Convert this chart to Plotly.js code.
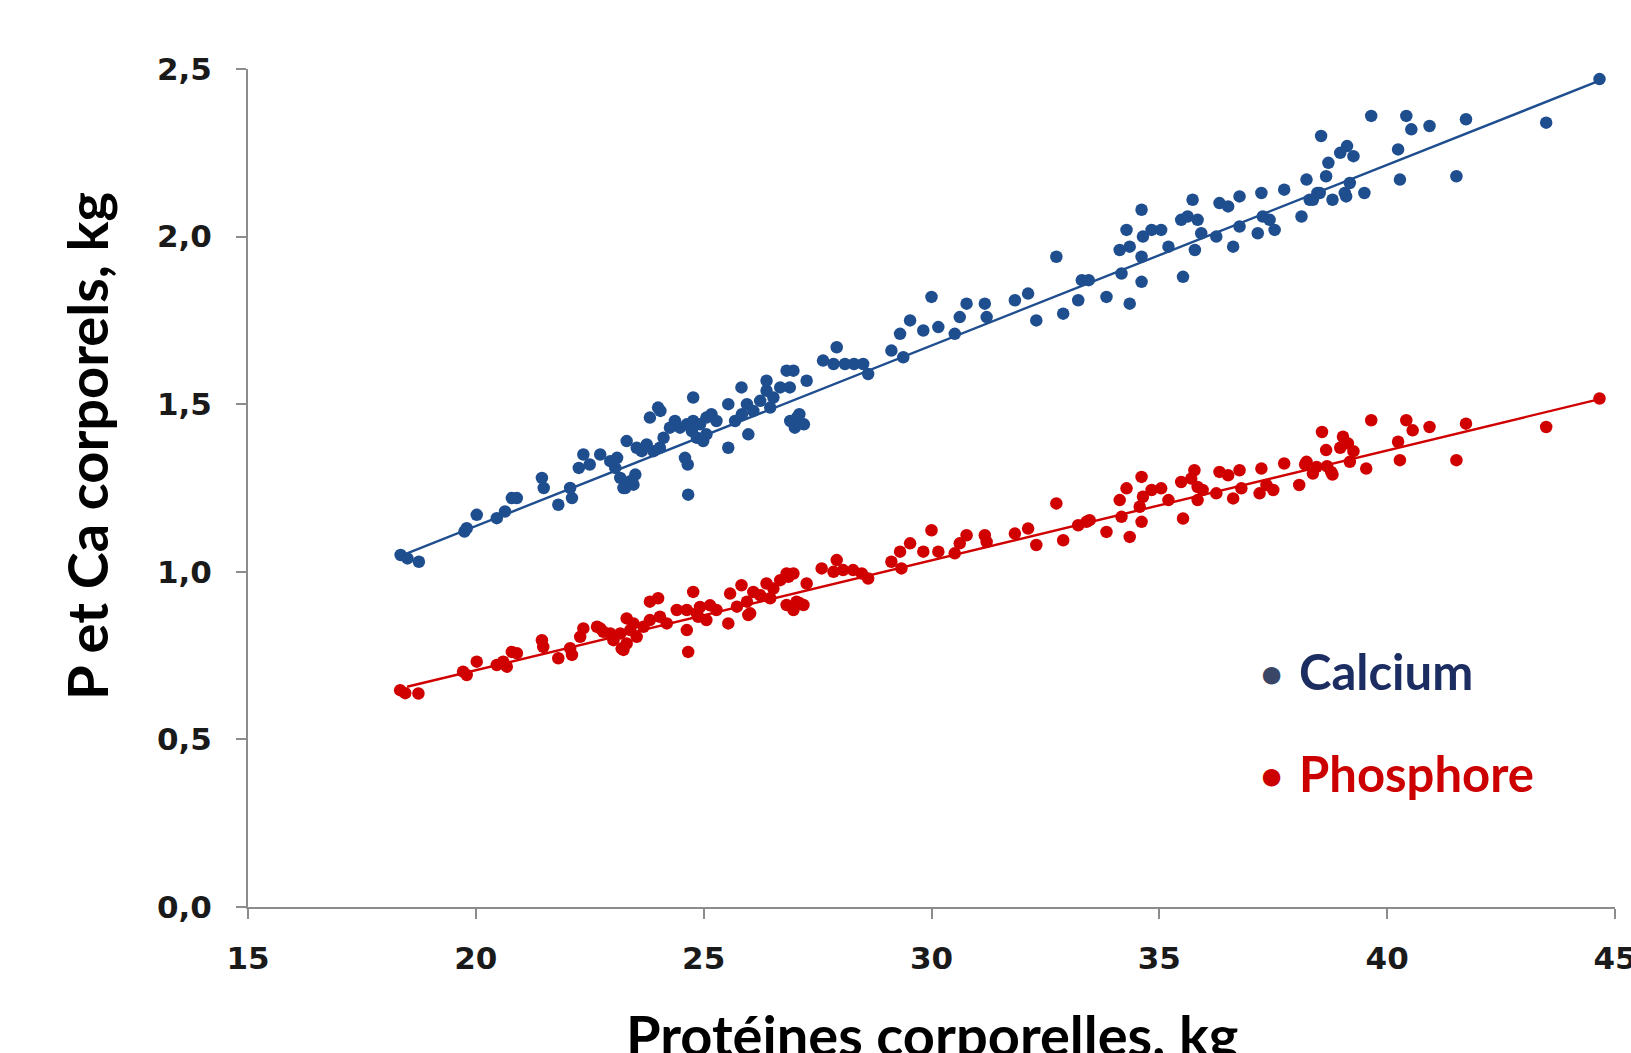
<!DOCTYPE html>
<html>
<head>
<meta charset="utf-8">
<script src="https://cdn.plot.ly/plotly-3.0.1.min.js"></script>
<style>
  html, body { margin: 0; padding: 0; background: #ffffff; }
  #chart { width: 1631px; height: 1053px; }
</style>
</head>
<body>
<div id="chart"></div>
<script>
// Calcium (Ca) body content, kg, vs body protein, kg
const caX = [18.35,18.5,18.75,19.75,19.8,20.02,20.46,20.64,20.79,20.9,21.45,21.49,21.81,22.07,22.11,22.26,22.36,22.5,22.73,22.95,
  23.06,23.1,23.17,23.24,23.28,23.39,23.46,23.5,23.31,23.53,23.64,23.75,23.82,23.9,24.0,24.04,24.05,24.12,24.26,24.37,
  24.48,24.59,24.63,24.65,24.66,24.74,24.77,24.77,24.85,24.92,24.99,25.06,25.06,25.17,25.28,25.54,25.54,25.69,25.83,25.84,
  25.95,25.98,26.09,26.24,26.38,26.38,26.46,26.53,26.68,26.82,26.89,26.97,26.9,27.0,27.1,27.2,27.05,27.26,27.62,27.92,
  27.85,28.1,28.3,28.5,28.61,29.12,29.38,29.31,29.53,29.82,30.0,30.15,30.51,30.62,30.77,31.17,31.21,31.83,32.12,32.3,
  32.74,32.89,33.22,33.3,33.45,33.84,34.35,34.17,34.61,34.13,34.28,34.35,34.61,34.64,34.61,34.83,35.04,35.2,35.48,35.62,
  35.84,35.73,35.92,35.78,35.52,36.25,36.32,36.51,36.62,36.76,36.76,37.16,37.27,37.42,37.24,37.53,37.74,38.12,38.23,38.3,
  38.37,38.47,38.52,38.55,38.66,38.71,38.8,38.97,39.07,39.1,39.12,39.18,39.26,39.5,39.65,40.24,40.28,40.42,40.53,40.93,
  41.52,41.73,43.49,44.66];
const caY = [1.05,1.04,1.03,1.12,1.13,1.17,1.16,1.18,1.22,1.22,1.28,1.25,1.20,1.25,1.22,1.31,1.35,1.32,1.35,1.33,
  1.31,1.34,1.28,1.25,1.25,1.27,1.26,1.29,1.39,1.37,1.36,1.38,1.46,1.36,1.49,1.37,1.48,1.40,1.43,1.45,
  1.43,1.34,1.44,1.32,1.23,1.42,1.52,1.45,1.40,1.44,1.39,1.46,1.41,1.47,1.45,1.37,1.50,1.45,1.55,1.47,
  1.50,1.41,1.48,1.51,1.57,1.54,1.49,1.52,1.55,1.60,1.55,1.60,1.45,1.43,1.47,1.44,1.46,1.57,1.63,1.67,
  1.62,1.62,1.62,1.62,1.59,1.66,1.64,1.71,1.75,1.72,1.82,1.73,1.71,1.76,1.80,1.80,1.76,1.81,1.83,1.75,
  1.94,1.77,1.81,1.87,1.87,1.82,1.80,1.89,1.865,1.96,2.02,1.97,2.08,2.00,1.94,2.02,2.02,1.97,2.05,2.06,
  2.05,2.11,2.01,1.96,1.88,2.00,2.10,2.09,1.97,2.12,2.03,2.01,2.06,2.05,2.13,2.02,2.14,2.06,2.17,2.11,
  2.11,2.13,2.13,2.30,2.18,2.22,2.11,2.25,2.13,2.12,2.27,2.16,2.24,2.13,2.36,2.26,2.17,2.36,2.32,2.33,
  2.18,2.35,2.34,2.47];

// Phosphorus (P) body content, kg, vs body protein, kg
const pX = [18.34,18.45,18.74,19.72,19.8,20.02,20.46,20.6,20.68,20.79,20.9,21.45,21.48,21.81,22.07,22.11,22.29,22.36,22.66,22.73,
  22.8,22.95,23.02,23.17,23.2,23.24,23.31,23.31,23.39,23.46,23.53,23.68,23.82,23.82,24.0,24.04,24.19,24.41,24.63,24.63,
  24.66,24.77,24.85,24.88,24.92,25.06,25.14,25.28,25.54,25.58,25.73,25.83,25.95,25.98,26.02,26.09,26.24,26.38,26.46,26.53,
  26.68,26.82,26.86,26.97,26.82,26.97,27.04,27.11,27.19,27.26,27.59,27.92,27.85,28.06,28.28,28.47,28.61,29.12,29.34,29.31,
  29.53,29.82,30.0,30.15,30.51,30.62,30.77,31.17,31.21,31.83,32.12,32.3,32.74,32.89,33.22,33.4,33.47,33.84,34.35,34.17,
  34.61,34.28,34.13,34.61,34.57,34.64,34.83,35.04,35.2,35.48,35.7,35.84,35.77,35.95,35.84,35.52,36.25,36.32,36.51,36.62,
  36.76,36.8,37.2,37.24,37.35,37.5,37.74,38.07,38.2,38.23,38.37,38.45,38.57,38.66,38.68,38.77,38.8,38.97,39.03,39.14,
  39.18,39.26,39.54,39.65,40.24,40.28,40.42,40.56,40.93,41.52,41.73,43.49,44.66];
const pY = [0.647,0.638,0.637,0.702,0.692,0.732,0.722,0.732,0.717,0.761,0.757,0.796,0.776,0.742,0.772,0.752,0.806,0.831,0.836,0.831,
  0.821,0.816,0.796,0.816,0.771,0.767,0.786,0.861,0.826,0.846,0.806,0.836,0.911,0.856,0.921,0.866,0.846,0.886,0.886,0.826,
  0.761,0.940,0.876,0.866,0.895,0.856,0.900,0.886,0.846,0.935,0.896,0.960,0.911,0.871,0.876,0.940,0.930,0.965,0.921,0.950,
  0.975,0.995,0.985,0.995,0.901,0.886,0.911,0.906,0.901,0.965,1.01,1.035,1.00,1.005,1.005,0.995,0.98,1.03,1.01,1.06,
  1.085,1.06,1.124,1.06,1.055,1.085,1.109,1.109,1.089,1.114,1.129,1.08,1.204,1.094,1.139,1.149,1.154,1.119,1.104,1.164,
  1.149,1.249,1.214,1.283,1.194,1.224,1.244,1.249,1.214,1.268,1.278,1.253,1.303,1.244,1.214,1.159,1.234,1.298,1.288,1.219,
  1.303,1.249,1.234,1.308,1.259,1.244,1.323,1.259,1.32,1.328,1.293,1.313,1.417,1.363,1.315,1.298,1.29,1.37,1.403,1.383,
  1.328,1.36,1.308,1.452,1.388,1.333,1.452,1.422,1.432,1.333,1.442,1.432,1.517];

// Trend lines (end points)
const lineX = [18.49, 44.66];
const caLineY = [1.055, 2.465];
const pLineY = [0.657, 1.515];

// Tick labels
const xTicks = [15, 20, 25, 30, 35, 40, 45];
const yTicks = [0, 0.5, 1.0, 1.5, 2.0, 2.5];
const yTickText = ['0,0', '0,5', '1,0', '1,5', '2,0', '2,5'];

const legendNames = ['Calcium', 'Phosphore'];
const xTitle = 'Protéines corporelles, kg';
const yTitle = 'P et Ca corporels, kg';

const CA = '#1F4E8F';
const P = '#D00000';

const traces = [
  { x: lineX, y: caLineY, mode: 'lines', line: { color: CA, width: 2.4 }, showlegend: false, hoverinfo: 'skip', cliponaxis: false },
  { x: lineX, y: pLineY, mode: 'lines', line: { color: P, width: 2.4 }, showlegend: false, hoverinfo: 'skip', cliponaxis: false },
  { x: caX, y: caY, mode: 'markers', name: legendNames[0], marker: { color: CA, size: 12.5 }, showlegend: false, cliponaxis: false },
  { x: pX, y: pY, mode: 'markers', name: legendNames[1], marker: { color: P, size: 12.5 }, showlegend: false, cliponaxis: false }
];

const axisCol = '#8C8C8C';
const tickFont = { family: 'DejaVu Sans', size: 31, color: '#1a1a1a', weight: 'bold' };
const titleFont = { family: 'Lato', size: 56, color: '#000000', weight: 'bold' };

// pixel helpers for annotation placement (plot area: x 248..1615, y 69..907)
const px = v => (v - 248) / 1367;
const py = v => (907 - v) / 838;

const layout = {
  width: 1631, height: 1053,
  margin: { l: 248, r: 16, t: 69, b: 146, pad: 0 },
  paper_bgcolor: '#ffffff', plot_bgcolor: '#ffffff',
  showlegend: false,
  xaxis: {
    range: [15, 45], tickvals: xTicks, ticktext: xTicks.map(String),
    showgrid: false, zeroline: false, showline: true, linecolor: axisCol, linewidth: 2,
    ticks: 'outside', ticklen: 10, tickwidth: 2, tickcolor: axisCol,
    tickfont: tickFont, ticklabelstandoff: 13, ticklabeloverflow: 'allow', fixedrange: true
  },
  yaxis: {
    range: [0, 2.5], tickvals: yTicks, ticktext: yTickText,
    showgrid: false, zeroline: false, showline: true, linecolor: axisCol, linewidth: 2,
    ticks: 'outside', ticklen: 10, tickwidth: 2, tickcolor: axisCol,
    tickfont: tickFont, ticklabelstandoff: 18, ticklabeloverflow: 'allow', fixedrange: true
  },
  annotations: [
    { xref: 'paper', yref: 'paper', x: 0.5, y: -0.152, xanchor: 'center', yanchor: 'middle',
      text: xTitle, showarrow: false, font: titleFont },
    { xref: 'paper', yref: 'paper', x: -0.1185, y: 0.55, xanchor: 'center', yanchor: 'middle',
      text: yTitle, textangle: -90, showarrow: false, font: titleFont },
    { xref: 'paper', yref: 'paper', x: px(1271), y: py(673), xanchor: 'center', yanchor: 'middle',
      text: '•', showarrow: false, font: { family: 'Lato', size: 40, color: '#3a4666', weight: 'bold' } },
    { xref: 'paper', yref: 'paper', x: px(1297), y: py(671), xanchor: 'left', yanchor: 'middle',
      text: legendNames[0], showarrow: false, font: { family: 'Lato', size: 49, color: '#1C2D62', weight: 'bold' } },
    { xref: 'paper', yref: 'paper', x: px(1271), y: py(775), xanchor: 'center', yanchor: 'middle',
      text: '•', showarrow: false, font: { family: 'Lato', size: 40, color: '#CC0000', weight: 'bold' } },
    { xref: 'paper', yref: 'paper', x: px(1297), y: py(773), xanchor: 'left', yanchor: 'middle',
      text: legendNames[1], showarrow: false, font: { family: 'Lato', size: 49, color: '#CC0000', weight: 'bold' } }
  ]
};

Plotly.newPlot('chart', traces, layout, { displayModeBar: false, staticPlot: true });
</script>
</body>
</html>
